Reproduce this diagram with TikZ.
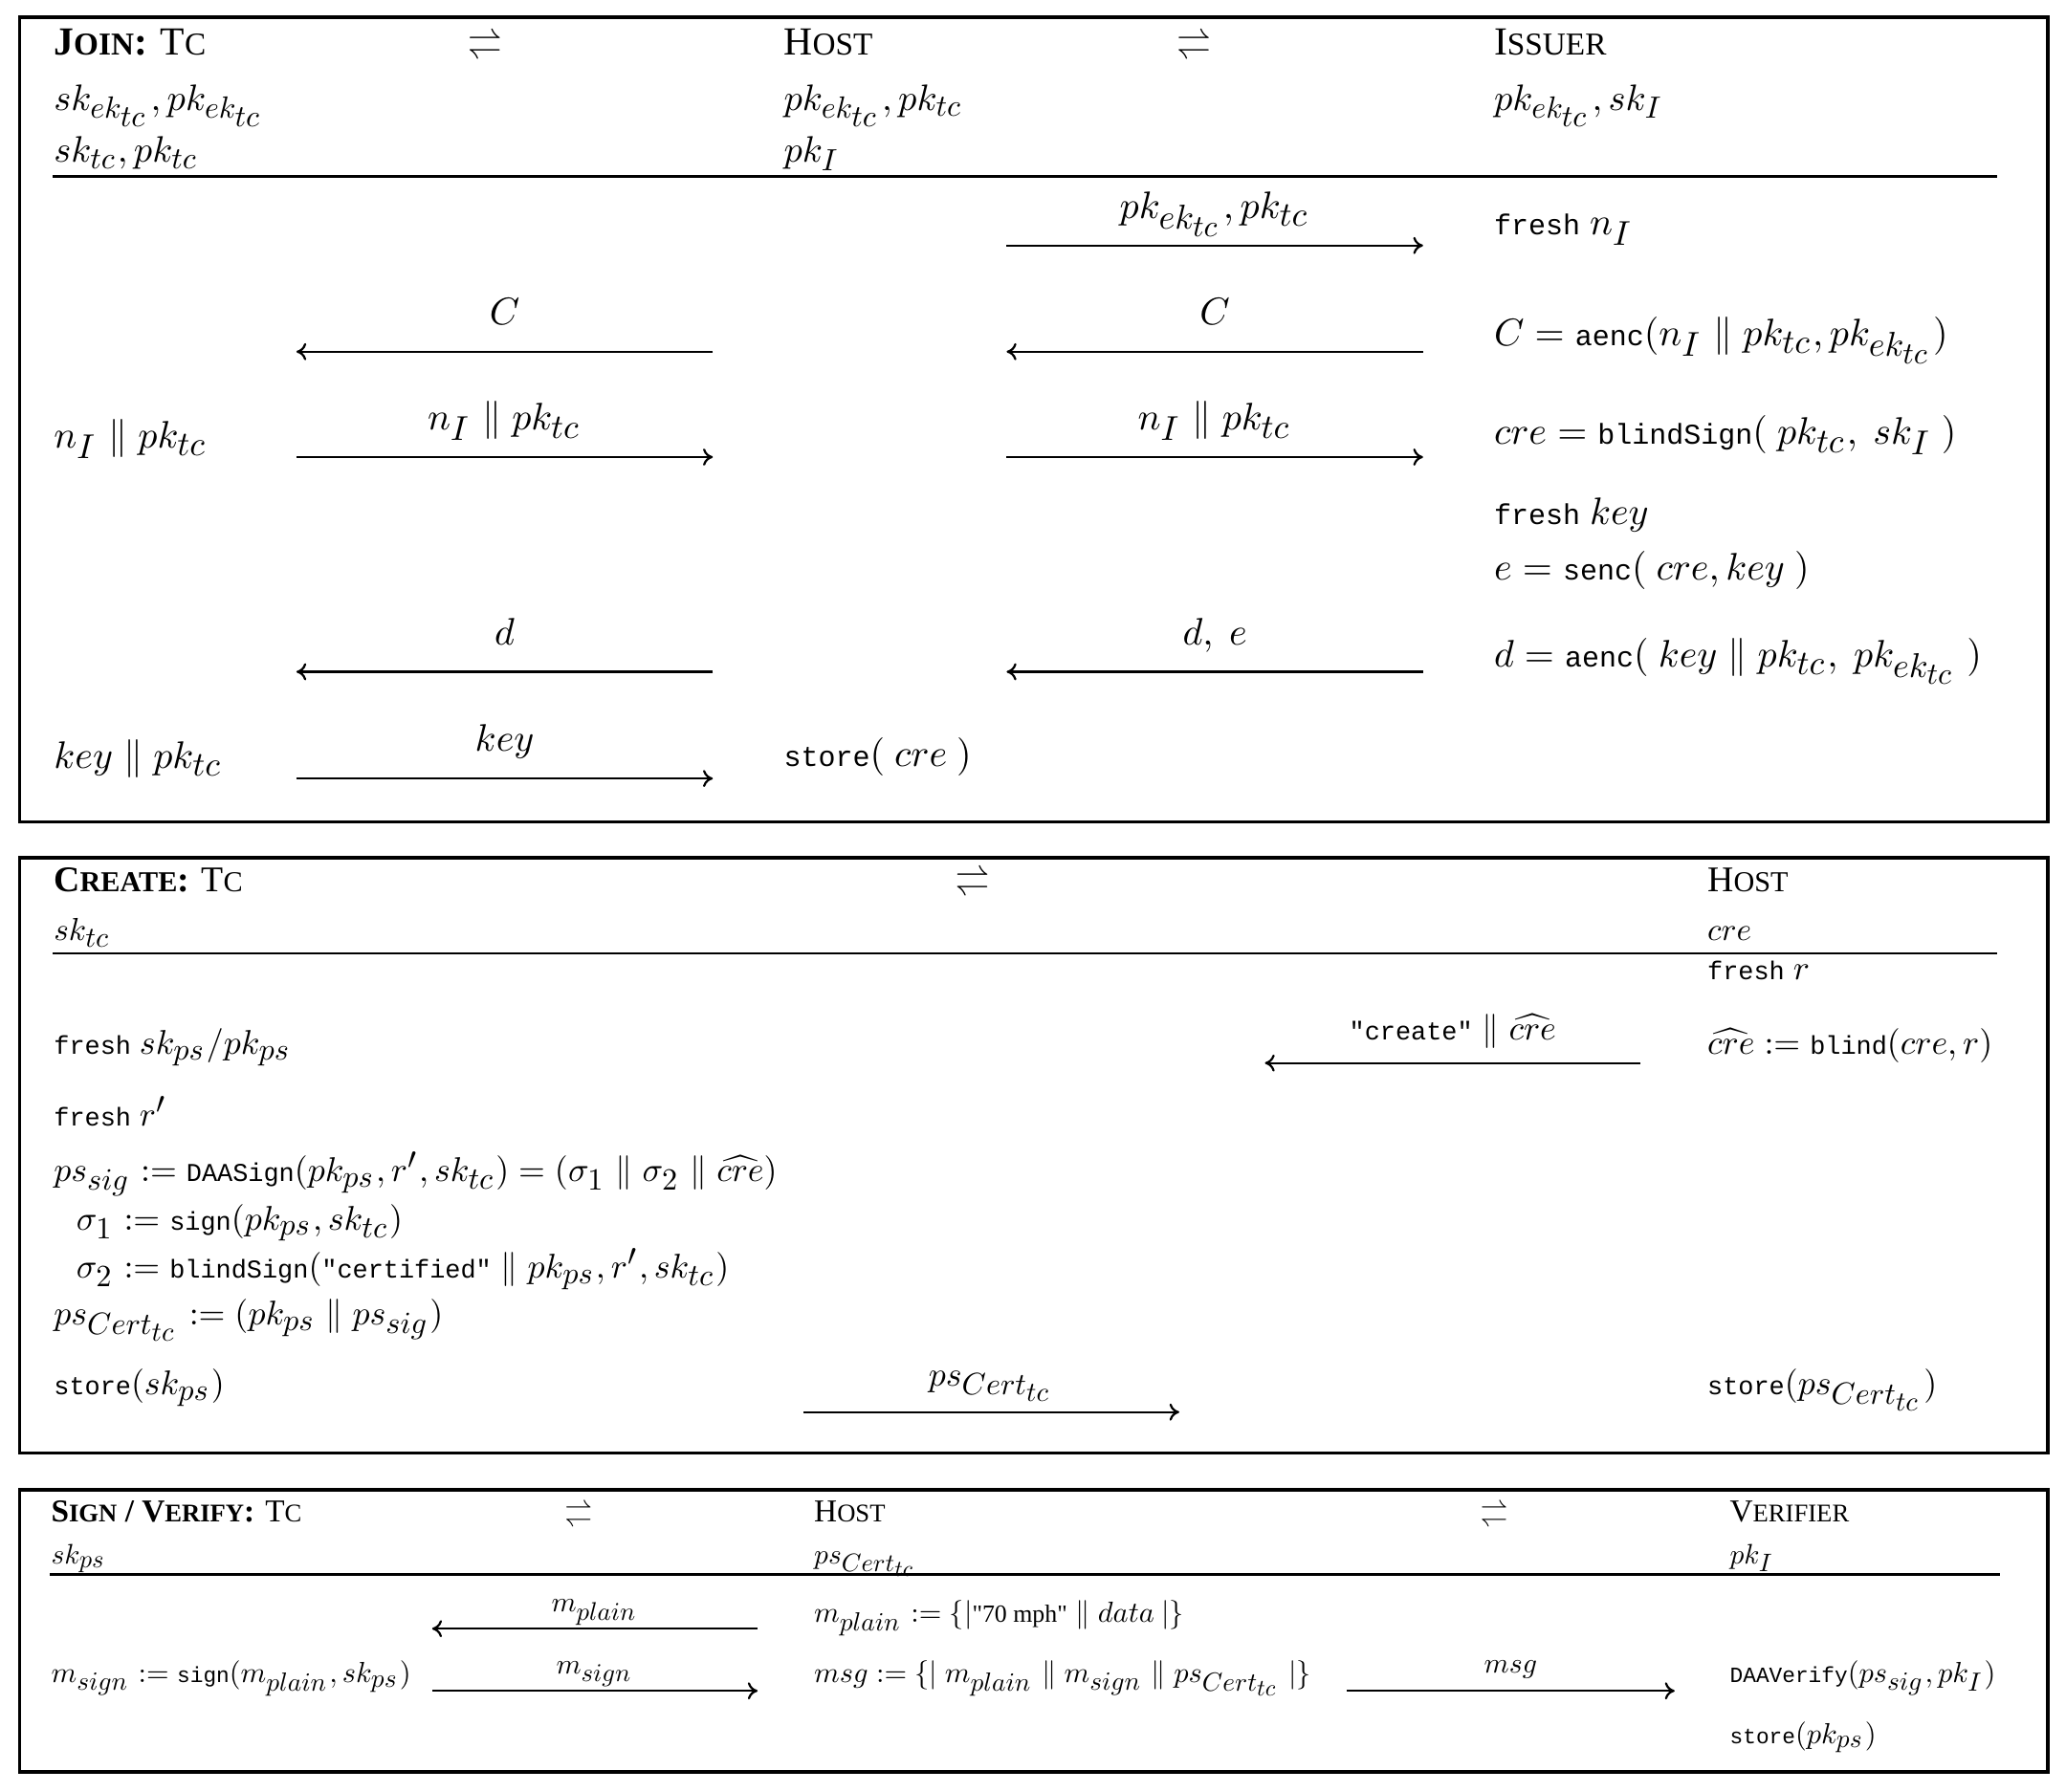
\documentclass[tikz,border=0pt]{standalone}
\usepackage[no-math]{fontspec}
\setmainfont{Liberation Serif}
\setmonofont{Liberation Mono}
\usepackage{graphicx}
\usetikzlibrary{positioning}
\usetikzlibrary{arrows.meta}

% one design size for the math fonts at every size
\DeclareFontShape{OML}{cmm}{m}{it}{<->cmmi10}{}
\DeclareFontShape{OMS}{cmsy}{m}{n}{<->cmsy10}{}
\DeclareFontShape{OT1}{cmr}{m}{n}{<->cmr10}{}
\DeclareFontShape{OMX}{cmex}{m}{n}{<->cmex10}{}
% larger sub- and subsubscripts, as in the figure
\renewcommand{\defaultscriptratio}{.9}
\renewcommand{\defaultscriptscriptratio}{.8}

\newcommand{\scap}[2]{#1\scalebox{0.8}{#2}}
\newcommand{\fn}[1]{\scalebox{0.75}{\texttt{#1}}}
\newcommand{\qq}{\textquotedbl}

\tikzset{
  every node/.style={inner sep=0pt, anchor=base west},
  box/.style={draw, line width=0.55pt},
  rule/.style={line width=0.4pt},
  msg/.style={-{To[length=1.6pt,width=2.8pt]}, line width=0.35pt},
  symA/.style={anchor=base, font=\fontsize{5.55}{6.6}\selectfont},
  symC/.style={anchor=base, font=\fontsize{4.45}{5.3}\selectfont},
  nmA/.style={font=\fontsize{6.5}{7.8}\selectfont},
  hdA/.style={font=\fontsize{6.0}{7.2}\selectfont},
  bdA/.style={font=\fontsize{6.25}{7.5}\selectfont},
  lbA/.style={anchor=base, yshift=4.4pt, font=\fontsize{6.25}{7.5}\selectfont},
  nmB/.style={font=\fontsize{5.9}{7.1}\selectfont},
  hdB/.style={font=\fontsize{5.2}{6.2}\selectfont},
  bdB/.style={font=\fontsize{5.6}{6.7}\selectfont},
  lbB/.style={anchor=base, yshift=4.3pt, font=\fontsize{5.6}{6.7}\selectfont},
  nmC/.style={font=\fontsize{5.2}{6.2}\selectfont},
  hdC/.style={font=\fontsize{4.6}{5.5}\selectfont},
  bdC/.style={font=\fontsize{4.75}{5.7}\selectfont},
  lbC/.style={anchor=base, yshift=2.7pt, font=\fontsize{4.65}{5.6}\selectfont}
}

\begin{document}
\begin{tikzpicture}[x=0.21525pt, y=-0.21525pt]
  \useasboundingbox (0,0) rectangle (1568,1360);

  % ---- Join
  \draw[box] (15,13) rectangle (1554,624);
  \node (jtc) [nmA] at (40,41.6) {\textbf{\scap{J}{OIN}:} \scap{T}{C}};
  \node (jx1) [symA] at (368,41.6) {$\rightleftharpoons$};
  \node (jhost) [nmA] at (594,41.6) {\scap{H}{OST}};
  \node (jx2) [symA] at (906,41.6) {$\rightleftharpoons$};
  \node (jiss) [nmA] at (1133,41.6) {\scap{I}{SSUER}};
  \node (jtck1) [hdA] at (40,83.5) {$sk_{ek_{tc}}, pk_{ek_{tc}}$};
  \node (jtck2) [hdA] at (40,123.4) {$sk_{tc}, pk_{tc}$};
  \node (jhk1) [hdA] at (594,83.5) {$pk_{ek_{tc}}, pk_{tc}$};
  \node (jhk2) [hdA] at (594,123.4) {$pk_I$};
  \node (jik1) [hdA] at (1133,83.5) {$pk_{ek_{tc}}, sk_I$};
  \draw[rule] (40,134) -- (1516,134);

  \node (jtc1) [bdA] at (40,340) {$n_I \parallel pk_{tc}$};
  \node (jtc2) [bdA] at (40,583) {$key \parallel pk_{tc}$};
  \node (jh1) [bdA] at (594,582) {$\fn{store}(\ cre\ )$};
  \node (ji1) [bdA] at (1133,178) {\fn{fresh} $n_I$};
  \node (ji2) [bdA] at (1133,262.5) {$C = \fn{aenc}(n_I \parallel pk_{tc}, pk_{ek_{tc}})$};
  \node (ji3) [bdA] at (1133,337.5) {$cre = \fn{blindSign}(\ pk_{tc},\ sk_I\ )$};
  \node (ji4) [bdA] at (1133,398) {\fn{fresh} $key$};
  \node (ji5) [bdA] at (1133,440.5) {$e = \fn{senc}(\ cre, key\ )$};
  \node (ji6) [bdA] at (1133,506) {$d = \fn{aenc}(\ key \parallel pk_{tc},\ pk_{ek_{tc}}\ )$};

  \coordinate (a1s) at (764,186.4);  \coordinate (a1e) at (1080,186.4);
  \coordinate (a2s) at (541,267);    \coordinate (a2e) at (225,267);
  \coordinate (a3s) at (1080,267);   \coordinate (a3e) at (764,267);
  \coordinate (a4s) at (225,347);    \coordinate (a4e) at (541,347);
  \coordinate (a5s) at (764,347);    \coordinate (a5e) at (1080,347);
  \coordinate (a6s) at (541,510);    \coordinate (a6e) at (225,510);
  \coordinate (a7s) at (1080,510);   \coordinate (a7e) at (764,510);
  \coordinate (a8s) at (225,591);    \coordinate (a8e) at (541,591);
  \path [msg]
    (a1s) edge node[lbA] {$pk_{ek_{tc}}, pk_{tc}$} (a1e)
    (a2s) edge node[lbA] {$C$} (a2e)
    (a3s) edge node[lbA] {$C$} (a3e)
    (a4s) edge node[lbA] {$n_I \parallel pk_{tc}$} (a4e)
    (a5s) edge node[lbA] {$n_I \parallel pk_{tc}$} (a5e)
    (a6s) edge node[lbA] {$d$} (a6e)
    (a7s) edge node[lbA] {$d,\ e$} (a7e)
    (a8s) edge node[lbA] {$key$} (a8e);

  % ---- Create
  \draw[box] (15,651) rectangle (1554,1103);
  \node (ctc) [nmB] at (40,677) {\textbf{\scap{C}{REATE}:} \scap{T}{C}};
  \node (cx) [symA] at (738,677) {$\rightleftharpoons$};
  \node (chost) [nmB] at (1295,677) {\scap{H}{OST}};
  \node (ctck) [hdB] at (40,714) {$sk_{tc}$};
  \node (chk) [hdB] at (1295,714) {$cre$};
  \draw[rule] (40,723.8) -- (1516,723.8);

  \node (ch1) [bdB] at (1295,744) {\fn{fresh} $r$};
  \node (ch2) [bdB] at (1295,800.6) {$\widehat{cre} := \fn{blind}(cre, r)$};
  \node (ch3) [bdB] at (1295,1059) {$\fn{store}(ps_{Cert_{tc}})$};
  \node (ct1) [bdB] at (40,800.6) {\fn{fresh} $sk_{ps}/pk_{ps}$};
  \node (ct2) [bdB] at (40,855) {\fn{fresh} $r'$};
  \node (ct3) [bdB] at (40,897) {$ps_{sig} := \fn{DAASign}(pk_{ps}, r', sk_{tc}) = (\sigma_1 \parallel \sigma_2 \parallel \widehat{cre})$};
  \node (ct4) [bdB] at (57,934) {$\sigma_1 := \fn{sign}(pk_{ps}, sk_{tc})$};
  \node (ct5) [bdB] at (57,970.5) {$\sigma_2 := \fn{blindSign}(\fn{\qq certified\qq} \parallel pk_{ps}, r', sk_{tc})$};
  \node (ct6) [bdB] at (40,1006) {$ps_{Cert_{tc}} := (pk_{ps} \parallel ps_{sig})$};
  \node (ct7) [bdB] at (40,1059) {$\fn{store}(sk_{ps})$};

  \coordinate (b1s) at (1245,807);   \coordinate (b1e) at (960,807);
  \coordinate (b2s) at (610,1072);   \coordinate (b2e) at (895,1072);
  \path [msg]
    (b1s) edge node[lbB, yshift=-0.6pt] {$\fn{\qq create\qq} \parallel \widehat{cre}$} (b1e)
    (b2s) edge node[lbB] {$ps_{Cert_{tc}}$} (b2e);

  % ---- Sign / Verify
  \draw[box] (15,1131) rectangle (1554,1345);
  \node (stc) [nmC] at (38,1155.4) {\textbf{\scap{S}{IGN} / \scap{V}{ERIFY}:} \scap{T}{C}};
  \node (sx1) [symC] at (439,1155.4) {$\rightleftharpoons$};
  \node (shost) [nmC] at (617,1155.4) {\scap{H}{OST}};
  \node (sx2) [symC] at (1134,1155.4) {$\rightleftharpoons$};
  \node (sver) [nmC] at (1312,1155.4) {\scap{V}{ERIFIER}};
  \node (stck) [hdC] at (38,1187) {$sk_{ps}$};
  \node (shk) [hdC] at (617,1187) {$ps_{Cert_{tc}}$};
  \node (svk) [hdC] at (1312,1187) {$pk_I$};
  \draw[rule] (38,1195.3) -- (1518,1195.3);

  \node (st1) [bdC] at (38,1277.6) {$m_{sign} := \fn{sign}(m_{plain}, sk_{ps})$};
  \node (sh1) [bdC] at (617,1231.6) {$m_{plain} := \{|\scalebox{0.85}{\qq 70 mph\qq} \parallel data\ |\}$};
  \node (sh2) [bdC] at (617,1277.6) {$msg := \{|\ m_{plain} \parallel m_{sign} \parallel ps_{Cert_{tc}}\ |\}$};
  \node (sv1) [bdC] at (1312,1277.6) {$\fn{DAAVerify}(ps_{sig}, pk_I)$};
  \node (sv2) [bdC] at (1312,1323.5) {$\fn{store}(pk_{ps})$};

  \coordinate (c1s) at (575,1236.4);  \coordinate (c1e) at (328,1236.4);
  \coordinate (c2s) at (328,1283.6);  \coordinate (c2e) at (575,1283.6);
  \coordinate (c3s) at (1022,1283.6); \coordinate (c3e) at (1271,1283.6);
  \path [msg]
    (c1s) edge node[lbC] {$m_{plain}$} (c1e)
    (c2s) edge node[lbC] {$m_{sign}$} (c2e)
    (c3s) edge node[lbC, yshift=0.2pt] {$msg$} (c3e);
\end{tikzpicture}
\end{document}
